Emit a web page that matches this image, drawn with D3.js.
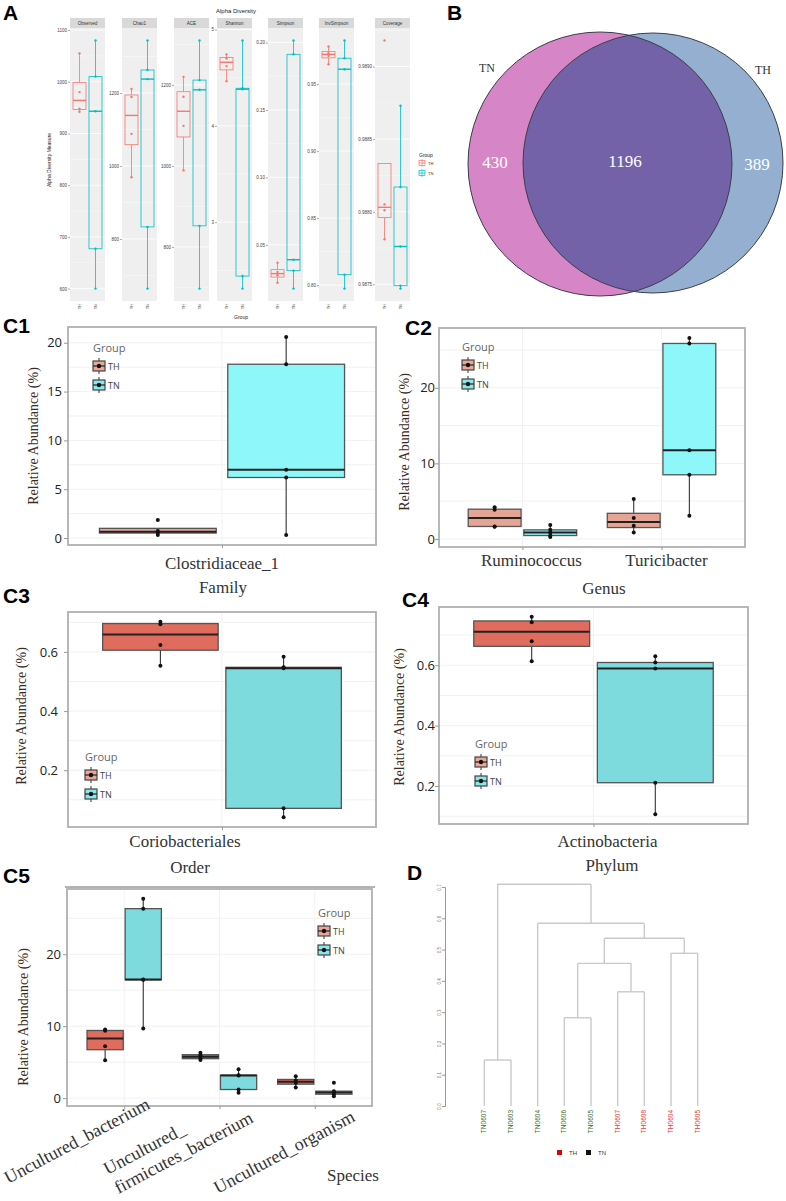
<!DOCTYPE html>
<html>
<head>
<meta charset="utf-8">
<script src="https://cdn.jsdelivr.net/npm/d3@7"></script>
<style>
body { margin: 0; background: #fff; }
svg { display: block; }
</style>
</head>
<body>
<svg id="fig" width="786" height="1201"></svg>
<script>
// ---------- data ----------
const groups = ["TH", "TN"];

// A: alpha diversity, one row per metric, raw sample values
const alphaMetrics = ["Observed", "Chao1", "ACE", "Shannon", "Simpson", "InvSimpson", "Coverage"];
const alphaTH = [
  [942, 948, 980, 1055],
  [969, 1088, 1189, 1211],
  [989, 1099, 1171, 1220],
  [4.464, 4.62, 4.70, 4.742],
  [0.022, 0.0275, 0.0299, 0.0368],
  [0.9648, 0.9712, 0.9732, 0.9781],
  [0.98781, 0.98801, 0.98805, 0.98918]
];
const alphaTN = [
  [600, 677, 943, 1010, 1080],
  [664, 833, 1238, 1263, 1344],
  [697, 852, 1188, 1212, 1310],
  [2.31, 2.44, 4.38, 4.39, 4.887],
  [0.0176, 0.0309, 0.039, 0.1912, 0.2015],
  [0.7974, 0.8078, 0.9611, 0.9693, 0.9826],
  [0.98747, 0.98749, 0.98776, 0.98817, 0.98873]
];
const alphaTicks = [
  [600, 700, 800, 900, 1000, 1100],
  [800, 1000, 1200],
  [800, 1000, 1200],
  [3, 4, 5],
  [0.05, 0.10, 0.15, 0.20],
  [0.80, 0.85, 0.90, 0.95],
  [0.9875, 0.9880, 0.9885, 0.9890]
];
const alphaTickFmt = ["d", "d", "d", "d", ".2f", ".2f", ".4f"];

// B: venn
const vennSets = ["TN", "TH"];
const vennCounts = [430, 1196, 389];   // TN only, shared, TH only

// C1..C5: relative abundance (%)
const c1Taxa = ["Clostridiaceae_1"];
const c1TH = [[0.32, 0.573, 0.707, 1.84]];
const c1TN = [[0.3, 6.2, 7.0, 17.8, 20.6]];
const c1Ticks = [0, 5, 10, 15, 20];

const c2Taxa = ["Ruminococcus", "Turicibacter"];
const c2TH = [[1.62, 1.66, 3.85, 4.2], [0.84, 1.73, 2.76, 5.29]];
const c2TN = [[0.25, 0.45, 0.85, 1.2, 1.85], [3.07, 8.49, 11.73, 25.87, 26.6]];
const c2Ticks = [0, 10, 20];

const c3Taxa = ["Coriobacteriales"];
const c3TH = [[0.553, 0.6235, 0.694, 0.702]];
const c3TN = [[0.041, 0.071, 0.545, 0.548, 0.584]];
const c3Ticks = [0.2, 0.4, 0.6];

const c4Taxa = ["Actinobacteria"];
const c4TH = [[0.613, 0.679, 0.742, 0.76]];
const c4TN = [[0.107, 0.211, 0.589, 0.609, 0.63]];
const c4Ticks = [0.2, 0.4, 0.6];

const c5Taxa = ["Uncultured_bacterium", "Uncultured_firmicutes_bacterium", "Uncultured_organism"];
const c5TickLabels = [["Uncultured_bacterium"], ["Uncultured_", "firmicutes_bacterium"], ["Uncultured_organism"]];
const c5TH = [[5.28, 7.22, 9.36, 9.54], [5.3, 5.55, 5.95, 6.3], [1.48, 2.1, 2.45, 3.05]];
const c5TN = [[9.68, 16.45, 16.5, 26.34, 27.7], [0.74, 1.2, 3.15, 3.2, 4.03], [0.28, 0.55, 0.79, 0.97, 2.13]];
const c5Ticks = [0, 10, 20];

// D: hierarchical clustering (hclust style merge table, negative = leaf)
const dendroLeaves = ["TN0607", "TN0603", "TN0604", "TN0606", "TN0605", "TH0607", "TH0608", "TH0604", "TH0605"];
const dendroMerge = [
  [-1, -2, 0.147],
  [-4, -5, 0.282],
  [-6, -7, 0.365],
  [2, 3, 0.456],
  [-8, -9, 0.488],
  [4, 5, 0.536],
  [-3, 6, 0.584],
  [1, 7, 0.709]
];
const dendroTicks = [0, 0.1, 0.2, 0.3, 0.4, 0.5, 0.6, 0.7];

// ---------- setup ----------
const svg = d3.select("#fig");
const serif = "'Liberation Serif','Times New Roman',serif";
const sans = "'Liberation Sans',Arial,sans-serif";
const ui = "'Open Sans','Liberation Sans',sans-serif";

function boxStats(v) {
  const s = v.slice().sort(d3.ascending);
  const q1 = d3.quantile(s, 0.25), med = d3.quantile(s, 0.5), q3 = d3.quantile(s, 0.75);
  const iqr = q3 - q1;
  const lo = d3.min(s.filter(d => d >= q1 - 1.5 * iqr));
  const hi = d3.max(s.filter(d => d <= q3 + 1.5 * iqr));
  return {q1, med, q3, lo: Math.min(lo, q1), hi: Math.max(hi, q3)};
}
function expanded(vals) {
  const e = d3.extent(vals), pad = (e[1] - e[0]) * 0.05;
  return [e[0] - pad, e[1] + pad];
}

// panel letters
const letters = [["A", 3, 20], ["B", 447, 20], ["C1", 3, 333], ["C2", 405, 335], ["C3", 3, 603],
                 ["C4", 402, 607], ["C5", 3, 883], ["D", 407, 880]];
svg.selectAll("text.letter").data(letters).enter().append("text")
  .attr("class", "letter")
  .attr("x", d => d[1]).attr("y", d => d[2])
  .style("font-family", sans).style("font-weight", "bold").style("font-size", "21px")
  .text(d => d[0]);

// ---------- A ----------
const aTop = 28, aBot = 301, stripH = 10, facetW = 35;
const facetX = [70, 122, 174, 217, 268, 319, 375];
const aCol = {TH: "#F8766D", TN: "#00BFC4"};

alphaMetrics.forEach((m, i) => {
  const x0 = facetX[i];
  const g = svg.append("g");
  const y = d3.scaleLinear().domain(expanded(alphaTH[i].concat(alphaTN[i]))).range([aBot, aTop]);

  g.append("rect").attr("x", x0).attr("y", aTop).attr("width", facetW).attr("height", aBot - aTop).attr("fill", "#efefef");
  const t = alphaTicks[i], step = t[1] - t[0];
  const minor = d3.range(t[0] - step / 2, t[t.length - 1] + step, step).filter(v => y(v) > aTop && y(v) < aBot);
  g.selectAll(".mn").data(minor).enter().append("line")
    .attr("x1", x0).attr("x2", x0 + facetW).attr("y1", d => y(d)).attr("y2", d => y(d))
    .attr("stroke", "#fafafa").attr("stroke-width", 0.5);
  g.selectAll(".mj").data(t).enter().append("line")
    .attr("x1", x0).attr("x2", x0 + facetW).attr("y1", d => y(d)).attr("y2", d => y(d))
    .attr("stroke", "#ffffff").attr("stroke-width", 0.8);

  g.append("rect").attr("x", x0).attr("y", aTop - stripH).attr("width", facetW).attr("height", stripH).attr("fill", "#d9d9d9");
  g.append("text").attr("x", x0 + facetW / 2).attr("y", aTop - stripH / 2 + 1.5)
    .attr("text-anchor", "middle").style("font-family", sans).style("font-size", "4.5px").attr("fill", "#333").text(m);

  const ax = g.append("g").attr("transform", `translate(${x0},0)`)
    .call(d3.axisLeft(y).tickValues(t).tickSize(2).tickPadding(1).tickFormat(d3.format(alphaTickFmt[i])));
  ax.select(".domain").remove();
  ax.selectAll("line").attr("stroke", "#555").attr("stroke-width", 0.5);
  ax.selectAll("text").style("font-family", sans).style("font-size", "4.5px").attr("fill", "#444");

  groups.forEach((grp, k) => {
    const vals = k === 0 ? alphaTH[i] : alphaTN[i];
    const s = boxStats(vals);
    const xc = x0 + facetW / 2 + (k === 0 ? -8 : 8), bw = 13, col = aCol[grp];
    g.append("line").attr("x1", xc).attr("x2", xc).attr("y1", y(s.hi)).attr("y2", y(s.q3)).attr("stroke", col).attr("stroke-width", 0.8);
    g.append("line").attr("x1", xc).attr("x2", xc).attr("y1", y(s.q1)).attr("y2", y(s.lo)).attr("stroke", col).attr("stroke-width", 0.8);
    g.append("rect").attr("x", xc - bw / 2).attr("y", y(s.q3)).attr("width", bw).attr("height", Math.max(0.5, y(s.q1) - y(s.q3)))
      .attr("fill", "none").attr("stroke", col).attr("stroke-width", 0.8);
    g.append("line").attr("x1", xc - bw / 2).attr("x2", xc + bw / 2).attr("y1", y(s.med)).attr("y2", y(s.med)).attr("stroke", col).attr("stroke-width", 1.4);
    g.selectAll(null).data(vals).enter().append("circle")
      .attr("cx", xc).attr("cy", d => y(d)).attr("r", 1.2).attr("fill", col);
    g.append("text").attr("transform", `translate(${xc + 1.5},304) rotate(-90)`)
      .attr("text-anchor", "end").style("font-family", sans).style("font-size", "4px").attr("fill", "#555").text(grp);
  });
});
svg.append("text").attr("x", 216).attr("y", 13).style("font-family", sans).style("font-size", "6px").attr("fill", "#222").text("Alpha Diversity");
svg.append("text").attr("transform", "translate(51,160) rotate(-90)").attr("text-anchor", "middle")
  .style("font-family", sans).style("font-size", "5px").attr("fill", "#222").text("Alpha Diversity Measure");
svg.append("text").attr("x", 241).attr("y", 319).attr("text-anchor", "middle")
  .style("font-family", sans).style("font-size", "5px").attr("fill", "#222").text("Group");
svg.append("text").attr("x", 419).attr("y", 157).style("font-family", sans).style("font-size", "5px").attr("fill", "#222").text("Group");
groups.forEach((grp, k) => {
  const ky = 163 + k * 10;
  svg.append("rect").attr("x", 419).attr("y", ky - 2.5).attr("width", 6).attr("height", 5).attr("fill", "none").attr("stroke", aCol[grp]).attr("stroke-width", 0.7);
  svg.append("line").attr("x1", 419).attr("x2", 425).attr("y1", ky).attr("y2", ky).attr("stroke", aCol[grp]).attr("stroke-width", 0.8);
  svg.append("line").attr("x1", 422).attr("x2", 422).attr("y1", ky - 4).attr("y2", ky + 4).attr("stroke", aCol[grp]).attr("stroke-width", 0.6);
  svg.append("text").attr("x", 428).attr("y", ky + 1.5).style("font-family", sans).style("font-size", "4px").attr("fill", "#333").text(grp);
});

// ---------- B ----------
const vL = {cx: 600, cy: 164, r: 132}, vR = {cx: 653, cy: 163, r: 130};
const defs = svg.append("defs");
defs.append("clipPath").attr("id", "clipL").append("circle").attr("cx", vL.cx).attr("cy", vL.cy).attr("r", vL.r);
svg.append("circle").attr("cx", vL.cx).attr("cy", vL.cy).attr("r", vL.r).attr("fill", "#D685C6");
svg.append("circle").attr("cx", vR.cx).attr("cy", vR.cy).attr("r", vR.r).attr("fill", "#94AFCF");
svg.append("circle").attr("cx", vR.cx).attr("cy", vR.cy).attr("r", vR.r).attr("fill", "#7462A8").attr("clip-path", "url(#clipL)");
[vL, vR].forEach(c => svg.append("circle").attr("cx", c.cx).attr("cy", c.cy).attr("r", c.r)
  .attr("fill", "none").attr("stroke", "#3c3c4c").attr("stroke-width", 1));
svg.append("text").attr("x", 487).attr("y", 72).attr("text-anchor", "middle").style("font-family", serif).style("font-size", "12px").attr("fill", "#333").text(vennSets[0]);
svg.append("text").attr("x", 763).attr("y", 74).attr("text-anchor", "middle").style("font-family", serif).style("font-size", "12px").attr("fill", "#333").text(vennSets[1]);
const vennPos = [[495, 168], [625, 167], [757, 170]];
svg.selectAll("text.vn").data(vennCounts).enter().append("text").attr("class", "vn")
  .attr("x", (d, i) => vennPos[i][0]).attr("y", (d, i) => vennPos[i][1]).attr("text-anchor", "middle")
  .style("font-family", serif).style("font-size", "17px").attr("fill", "#fff").text(d => d);

// ---------- C panels ----------
function legendKey(g, x, y, fill) {
  g.append("line").attr("x1", x).attr("x2", x).attr("y1", y - 8).attr("y2", y + 8).attr("stroke", "#333").attr("stroke-width", 1);
  g.append("rect").attr("x", x - 6).attr("y", y - 5).attr("width", 12).attr("height", 10).attr("fill", fill).attr("stroke", "#444").attr("stroke-width", 1.2);
  g.append("line").attr("x1", x - 6).attr("x2", x + 6).attr("y1", y).attr("y2", y).attr("stroke", "#222").attr("stroke-width", 1.2);
  g.append("circle").attr("cx", x).attr("cy", y).attr("r", 2.2).attr("fill", "#111");
}

function boxPanel(p) {
  const g = svg.append("g");
  const all = d3.merge(p.th.concat(p.tn));
  const y = d3.scaleLinear().domain(expanded(all)).range([p.y1, p.y0]);
  const x = d3.scalePoint().domain(p.cats).range([p.x0, p.x1]).padding(0.6);
  const step = x.step() || (p.x1 - p.x0) / 1.2;
  const bw = p.boxW * step, off = p.dodge * step;

  // grid
  const st = p.ticks[1] - p.ticks[0];
  const minor = d3.range(p.ticks[0] - st / 2, p.ticks[p.ticks.length - 1] + st, st).filter(v => y(v) > p.y0 && y(v) < p.y1);
  g.selectAll(".gm").data(p.ticks.concat(minor)).enter().append("line")
    .attr("x1", p.x0).attr("x2", p.x1).attr("y1", d => y(d)).attr("y2", d => y(d))
    .attr("stroke", "#f1f1f1").attr("stroke-width", 1);
  g.selectAll(".gv").data(p.cats).enter().append("line")
    .attr("x1", d => x(d)).attr("x2", d => x(d)).attr("y1", p.y0).attr("y2", p.y1)
    .attr("stroke", "#f1f1f1").attr("stroke-width", 1);

  p.cats.forEach((c, ci) => {
    groups.forEach((grp, k) => {
      const vals = k === 0 ? p.th[ci] : p.tn[ci];
      const s = boxStats(vals);
      const xc = x(c) + (k === 0 ? -off : off);
      g.append("line").attr("x1", xc).attr("x2", xc).attr("y1", y(s.hi)).attr("y2", y(s.lo)).attr("stroke", "#333").attr("stroke-width", 1.1);
      g.append("rect").attr("x", xc - bw / 2).attr("y", y(s.q3)).attr("width", bw).attr("height", Math.max(1, y(s.q1) - y(s.q3)))
        .attr("fill", k === 0 ? p.fillTH : p.fillTN).attr("stroke", "#555").attr("stroke-width", 1.3);
      g.append("line").attr("x1", xc - bw / 2).attr("x2", xc + bw / 2).attr("y1", y(s.med)).attr("y2", y(s.med)).attr("stroke", "#222").attr("stroke-width", 2);
      g.selectAll(null).data(vals).enter().append("circle")
        .attr("cx", xc).attr("cy", d => y(d)).attr("r", 2).attr("fill", "#111");
    });
  });

  g.append("rect").attr("x", p.x0).attr("y", p.y0).attr("width", p.x1 - p.x0).attr("height", p.y1 - p.y0)
    .attr("fill", "none").attr("stroke", "#b0b0b0").attr("stroke-width", 1.8);

  const ay = g.append("g").attr("transform", `translate(${p.x0},0)`)
    .call(d3.axisLeft(y).tickValues(p.ticks).tickSize(4).tickPadding(p.tickPad).tickFormat(d3.format(p.fmt)));
  ay.select(".domain").remove();
  ay.selectAll("line").attr("stroke", "#999");
  ay.selectAll("text").style("font-family", ui).style("font-size", "13px").attr("fill", "#222");

  const axb = g.append("g").attr("transform", `translate(0,${p.y1})`)
    .call(d3.axisBottom(x).tickSize(3).tickFormat(""));
  axb.select(".domain").remove();
  axb.selectAll("line").attr("stroke", "#999");

  g.append("text").attr("transform", `translate(${p.titleX},${p.titleY}) rotate(-90)`).attr("text-anchor", "middle")
    .style("font-family", serif).style("font-size", "14px").attr("fill", "#3a2c22").text("Relative Abundance (%)");

  if (p.catLabelY) {
    g.selectAll(".cl").data(p.cats).enter().append("text")
      .attr("x", (d, i) => x(d) + p.catDx[i]).attr("y", p.catLabelY).attr("text-anchor", "middle")
      .style("font-family", serif).style("font-size", "17px").attr("fill", "#333").text(d => d);
  }
  g.append("text").attr("x", p.rankX).attr("y", p.rankY).attr("text-anchor", "middle")
    .style("font-family", serif).style("font-size", "17px").attr("fill", "#333").text(p.rank);

  g.append("text").attr("x", p.legX).attr("y", p.legY).style("font-family", ui).style("font-size", "11px").attr("fill", "#666").text("Group");
  groups.forEach((grp, k) => {
    const ky = p.legY + 14 + k * 19;
    legendKey(g, p.legX + 6, ky, k === 0 ? "#E8A797" : "#86E9EC");
    g.append("text").attr("x", p.legX + 15).attr("y", ky + 3.5).style("font-family", ui).style("font-size", "9px").attr("fill", "#444").text(grp);
  });
  return {x, y};
}

boxPanel({cats: c1Taxa, th: c1TH, tn: c1TN, ticks: c1Ticks, fmt: "d",
  x0: 68, x1: 376, y0: 327, y1: 545, boxW: 0.455, dodge: 0.25, tickPad: 2,
  fillTH: "#E6A594", fillTN: "#8DF7FA", titleX: 38, titleY: 436,
  catLabelY: 569, catDx: [0], rank: "Family", rankX: 223, rankY: 593, legX: 93, legY: 352});

boxPanel({cats: c2Taxa, th: c2TH, tn: c2TN, ticks: c2Ticks, fmt: "d",
  x0: 439, x1: 745, y0: 328, y1: 547, boxW: 0.38, dodge: 0.2, tickPad: 0,
  fillTH: "#E6A594", fillTN: "#8DF7FA", titleX: 409, titleY: 442,
  catLabelY: 566, catDx: [9, 5], rank: "Genus", rankX: 604, rankY: 594, legX: 462, legY: 351});

boxPanel({cats: c3Taxa, th: c3TH, tn: c3TN, ticks: c3Ticks, fmt: ".1f",
  x0: 68, x1: 376, y0: 612, y1: 827, boxW: 0.45, dodge: 0.24, tickPad: 6,
  fillTH: "#E06C5D", fillTN: "#7DDBDE", titleX: 26, titleY: 716,
  catLabelY: 847, catDx: [-37], rank: "Order", rankX: 190, rankY: 873, legX: 85, legY: 761});

boxPanel({cats: c4Taxa, th: c4TH, tn: c4TN, ticks: c4Ticks, fmt: ".1f",
  x0: 439, x1: 748, y0: 607, y1: 824, boxW: 0.45, dodge: 0.24, tickPad: 0,
  fillTH: "#E06C5D", fillTN: "#7DDBDE", titleX: 404, titleY: 717,
  catLabelY: 847, catDx: [14], rank: "Phylum", rankX: 612, rankY: 871, legX: 475, legY: 748});

// C5 has an extra rule above the panel
svg.append("line").attr("x1", 65).attr("x2", 375).attr("y1", 887).attr("y2", 887).attr("stroke", "#999").attr("stroke-width", 1.5);
const c5 = boxPanel({cats: c5Taxa, th: c5TH, tn: c5TN, ticks: c5Ticks, fmt: "d",
  x0: 67, x1: 372, y0: 889, y1: 1106, boxW: 0.38, dodge: 0.2, tickPad: 2,
  fillTH: "#E06C5D", fillTN: "#7DDBDE", titleX: 28, titleY: 1017,
  catLabelY: null, rank: "Species", rankX: 353, rankY: 1181, legX: 318, legY: 917});
// rotated species labels (start anchored)
const c5LabelStart = [[[-116, 1184]], [[-112, 1175], [-101, 1194]], [[-97, 1194]]];
c5Taxa.forEach((t, i) => {
  c5TickLabels[i].forEach((line, j) => {
    const [dx, yy] = c5LabelStart[i][j];
    svg.append("text").attr("transform", `translate(${c5.x(t) + dx},${yy}) rotate(-28)`)
      .style("font-family", serif).style("font-size", "18px").attr("fill", "#333").text(line);
  });
});

// ---------- D ----------
function buildTree() {
  const nodes = [];
  const get = k => k < 0 ? {name: dendroLeaves[-k - 1], h: 0} : nodes[k - 1];
  dendroMerge.forEach(([a, b, h]) => nodes.push({h, children: [get(a), get(b)]}));
  return nodes[nodes.length - 1];
}
const root = d3.hierarchy(buildTree());
d3.cluster().size([240, 1]).separation(() => 1)(root);
const dx0 = 471;
const hy = d3.scaleLinear().domain([0, 0.7]).range([1106, 887]);
const gd = svg.append("g");
root.descendants().filter(n => n.children).forEach(n => {
  const yy = hy(n.data.h);
  gd.append("line").attr("x1", dx0 + n.children[0].x).attr("x2", dx0 + n.children[1].x).attr("y1", yy).attr("y2", yy)
    .attr("stroke", "#c9c9c9").attr("stroke-width", 1.4);
  n.children.forEach(c => gd.append("line").attr("x1", dx0 + c.x).attr("x2", dx0 + c.x)
    .attr("y1", yy).attr("y2", hy(c.data.h)).attr("stroke", "#c9c9c9").attr("stroke-width", 1.4));
});
gd.selectAll("text.leaf").data(root.leaves()).enter().append("text").attr("class", "leaf")
  .attr("transform", d => `translate(${dx0 + d.x + 2},1110) rotate(-90)`).attr("text-anchor", "end")
  .style("font-family", sans).style("font-size", "6.5px")
  .attr("fill", d => d.data.name.startsWith("TH") ? "#E8383A" : "#3E6B2C").text(d => d.data.name);
const dAx = gd.append("g").attr("transform", "translate(445,0)")
  .call(d3.axisLeft(hy).tickValues(dendroTicks).tickSize(3).tickPadding(2).tickFormat(d3.format(".1f")));
dAx.select(".domain").attr("stroke", "#999");
dAx.selectAll("line").attr("stroke", "#999");
dAx.selectAll("text").attr("transform", function() { return `rotate(-90,${d3.select(this).attr("x")},0)`; })
  .attr("text-anchor", "middle").attr("dy", "0.2em").style("font-family", sans).style("font-size", "4.5px").attr("fill", "#777");
gd.append("rect").attr("x", 557).attr("y", 1150).attr("width", 5).attr("height", 5).attr("fill", "#E00000");
gd.append("text").attr("x", 569).attr("y", 1155).style("font-family", sans).style("font-size", "6px").attr("fill", "#333").text("TH");
gd.append("rect").attr("x", 586).attr("y", 1150).attr("width", 5).attr("height", 5).attr("fill", "#111");
gd.append("text").attr("x", 598).attr("y", 1155).style("font-family", sans).style("font-size", "6px").attr("fill", "#333").text("TN");
</script>
</body>
</html>
